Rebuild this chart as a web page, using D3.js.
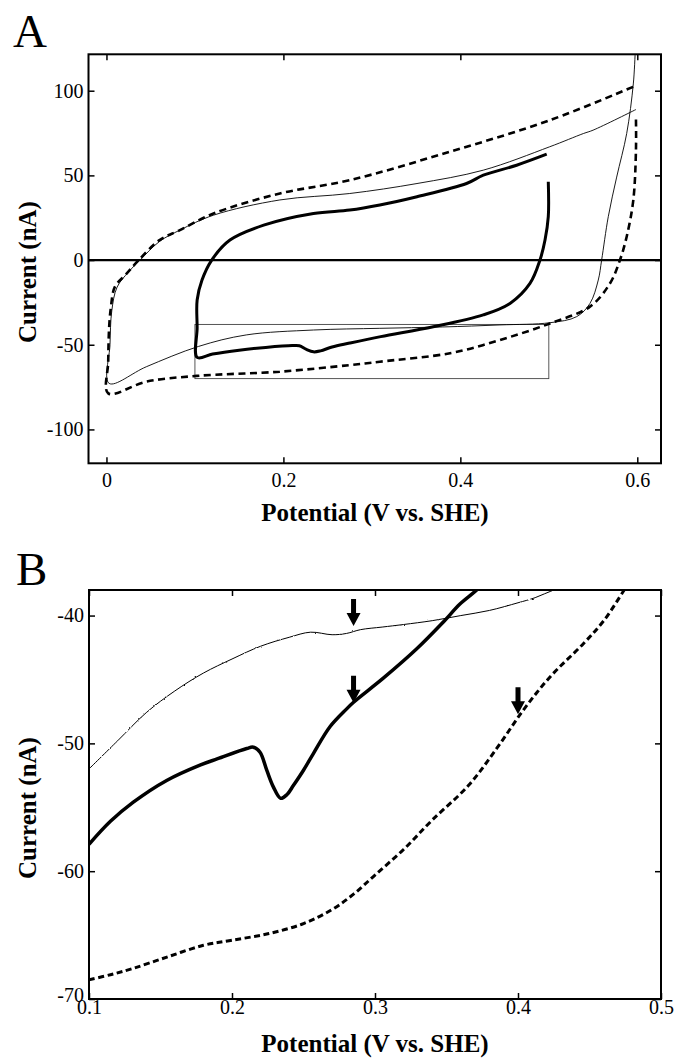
<!DOCTYPE html>
<html>
<head>
<meta charset="utf-8">
<script src="https://cdn.jsdelivr.net/npm/d3@7"></script>
<style>
body { margin: 0; background: #fff; }
svg { display: block; }
svg text { font-family: "Liberation Serif", "Times New Roman", serif; }
</style>
</head>
<body>
<script>
// panel A: full cyclic voltammograms, points are [potential V, current nA]
var aThin = [[0.599, 130], [0.598, 125], [0.5955, 104], [0.588, 74.7], [0.5767, 49], [0.5672, 25.6],
  [0.5597, 0], [0.5559, -11.8], [0.5465, -25.6], [0.5315, -33.4], [0.5013, -37], [0.4448, -38.3],
  [0.38, -39.5], [0.309, -40.3], [0.234, -41.3], [0.158, -44.2], [0.104, -51], [0.045, -63],
  [0.003, -72.8], [0.004, -50], [0.006, -30], [0.012, -16], [0.025, -7], [0.038, 0], [0.06, 11],
  [0.083, 17.7], [0.121, 26.5], [0.196, 35.5], [0.275, 39.3], [0.351, 45.2], [0.426, 53.1],
  [0.501, 66.9], [0.539, 74.7], [0.55, 76.7], [0.5985, 88.9]];
var aThick = [[0.4994, 46.2], [0.4994, 25.6], [0.4957, 11.8], [0.49, 0], [0.4787, -13.8],
  [0.4561, -25.6], [0.4259, -32.4], [0.3694, -39.4], [0.31, -45.2], [0.275, -49], [0.255, -51.3],
  [0.242, -53.6], [0.234, -54.2], [0.226, -52.8], [0.218, -50.6], [0.21, -50.5], [0.18, -51.6],
  [0.15, -53.2], [0.12, -55.5], [0.1025, -57.5], [0.1025, -40], [0.1025, -23.6], [0.108, -11.8],
  [0.119, 0], [0.1396, 11.8], [0.1777, 20.6], [0.234, 27.5], [0.275, 29.5], [0.309, 32.5],
  [0.351, 37.4], [0.407, 45.2], [0.426, 50.1], [0.4636, 56], [0.4976, 62.5]];
var aDashed = [[0.5985, 83], [0.5985, 65], [0.5955, 35.4], [0.588, 13.8], [0.5804, 0],
  [0.5691, -13.8], [0.5465, -27.5], [0.5013, -37.4], [0.4448, -47.2], [0.3883, -55], [0.309, -60],
  [0.2752, -62], [0.196, -65.9], [0.102, -68.4], [0.045, -71.8], [0.002, -78.7], [0.002, -60],
  [0.003, -40], [0.005, -28], [0.0096, -15.7], [0.023, -7.9], [0.0365, 0], [0.06, 11.8],
  [0.083, 17.7], [0.121, 27.5], [0.196, 39.3], [0.2752, 47.2], [0.3883, 64], [0.5013, 82.6],
  [0.5985, 103]];
var aBox = [[0.1, -38], [0.5, -70]];
var aXTicks = [0, 0.2, 0.4, 0.6];
var aYTicks = [-100, -50, 0, 50, 100];

// panel B: zoom on the boxed part of the cathodic scans
var bThin = [[0.1, -52], [0.12, -49.8], [0.14, -47.6], [0.16, -45.9], [0.18, -44.5], [0.2, -43.4],
  [0.22, -42.4], [0.24, -41.7], [0.255, -41.3], [0.27, -41.5], [0.28, -41.4], [0.29, -41.1],
  [0.305, -40.9], [0.32, -40.7], [0.34, -40.4], [0.36, -40], [0.38, -39.6], [0.4, -39],
  [0.412, -38.6], [0.425, -38], [0.44, -37.5]];
var bThick = [[0.1, -57.9], [0.115, -56.1], [0.131, -54.6], [0.1543, -52.9], [0.1776, -51.7],
  [0.19, -51.2], [0.2103, -50.4], [0.2149, -50.3], [0.2196, -50.7], [0.2243, -52.1],
  [0.2289, -53.4], [0.234, -54.3], [0.2385, -54], [0.2429, -53.3], [0.25, -52.1], [0.2569, -50.8],
  [0.2685, -48.7], [0.2802, -47.3], [0.2848, -46.8], [0.3058, -44.9], [0.3292, -42.6],
  [0.3478, -40.5], [0.3594, -39.1], [0.3711, -38], [0.38, -37]];
var bDashed = [[0.1, -68.5], [0.115, -68.1], [0.131, -67.6], [0.155, -66.7], [0.18, -65.8],
  [0.2, -65.4], [0.225, -64.9], [0.25, -64.1], [0.27, -63], [0.285, -61.8], [0.3, -60.3],
  [0.32, -58.3], [0.34, -56], [0.3653, -53.3], [0.3851, -50.4], [0.4037, -47.4], [0.4224, -44.8],
  [0.4457, -42.2], [0.46, -40.4], [0.4737, -38.1], [0.48, -37]];
var bArrows = [[0.285, -40.9], [0.285, -46.9], [0.4, -47.8]];
var bXTicks = [0.1, 0.2, 0.3, 0.4, 0.5];
var bYTicks = [-70, -60, -50, -40];

var svg = d3.select("body")
  .append("svg")
  .attr("width", 674)
  .attr("height", 1063);

// a faint jitter for the noisy thin trace of panel B
var jitter = svg.append("defs")
  .append("filter")
  .attr("id", "jitter")
  .attr("x", "-5%").attr("y", "-5%").attr("width", "110%").attr("height", "110%");
jitter.append("feTurbulence")
  .attr("type", "fractalNoise")
  .attr("baseFrequency", "0.35")
  .attr("numOctaves", 1)
  .attr("seed", 3)
  .attr("result", "noise");
jitter.append("feDisplacementMap")
  .attr("in", "SourceGraphic")
  .attr("in2", "noise")
  .attr("scale", 2.2)
  .attr("xChannelSelector", "R")
  .attr("yChannelSelector", "G");

function panel(id, box, xDom, yDom, xTicks, yTicks, xPad) {
  var w = box[2], h = box[3];
  var x = d3.scaleLinear().domain(xDom).range([0, w]);
  var y = d3.scaleLinear().domain(yDom).range([h, 0]);
  var g = svg.append("g")
    .attr("transform", "translate(" + box[0] + "," + box[1] + ")");
  g.append("clipPath")
    .attr("id", id)
    .append("rect")
    .attr("width", w)
    .attr("height", h);
  var fmt = function (d) { return String(d); }; // plain hyphen minus like the original
  g.append("g")
    .attr("transform", "translate(0," + h + ")")
    .call(d3.axisBottom(x).tickValues(xTicks).tickSize(-6).tickPadding(xPad).tickFormat(fmt));
  g.append("g")
    .call(d3.axisTop(x).tickValues(xTicks).tickSize(-6).tickFormat(""));
  g.append("g")
    .classed("yaxis", true)
    .call(d3.axisLeft(y).tickValues(yTicks).tickSize(-6).tickPadding(5).tickFormat(fmt));
  g.append("g")
    .attr("transform", "translate(" + w + ",0)")
    .call(d3.axisRight(y).tickValues(yTicks).tickSize(-6).tickFormat(""));
  g.selectAll(".domain").remove();
  g.selectAll(".tick line").attr("stroke-width", 1.5);
  g.selectAll(".tick text")
    .attr("font-size", 20)
    .attr("fill", "#000");
  var plot = g.append("g").attr("clip-path", "url(#" + id + ")");
  return { g: g, plot: plot, x: x, y: y, w: w, h: h };
}

function curve(p, data, width, dash) {
  var line = d3.line()
    .x(function (d) { return p.x(d[0]); })
    .y(function (d) { return p.y(d[1]); })
    .curve(d3.curveCatmullRom.alpha(0.5));
  return p.plot.append("path")
    .datum(data)
    .attr("d", line)
    .attr("fill", "none")
    .attr("stroke", "#000")
    .attr("stroke-width", width)
    .attr("stroke-linejoin", "round")
    .attr("stroke-dasharray", dash || null);
}

function frame(p) {
  p.g.append("rect")
    .attr("width", p.w)
    .attr("height", p.h)
    .attr("fill", "none")
    .attr("stroke", "#000")
    .attr("stroke-width", 2);
}

function titles(label, lx, ly, xTitleY, yTitleY) {
  svg.append("text")
    .attr("x", lx)
    .attr("y", ly)
    .attr("font-size", 47)
    .text(label);
  svg.append("text")
    .attr("x", 375)
    .attr("y", xTitleY)
    .attr("text-anchor", "middle")
    .attr("font-weight", "bold")
    .attr("font-size", 25)
    .text("Potential (V vs. SHE)");
  svg.append("text")
    .attr("transform", "translate(36," + yTitleY + ") rotate(-90)")
    .attr("text-anchor", "middle")
    .attr("font-weight", "bold")
    .attr("font-size", 25)
    .text("Current (nA)");
}

// ---- A ----
var pa = panel("clipA", [88.5, 54.3, 572.5, 409], [-0.0203, 0.6268], [-120, 121.5], aXTicks, aYTicks, 10);
pa.plot.append("line")
  .attr("x1", 0)
  .attr("x2", pa.w)
  .attr("y1", pa.y(0))
  .attr("y2", pa.y(0))
  .attr("stroke", "#000")
  .attr("stroke-width", 2.2);
pa.plot.append("rect")
  .attr("x", pa.x(aBox[0][0]))
  .attr("y", pa.y(aBox[0][1]))
  .attr("width", pa.x(aBox[1][0]) - pa.x(aBox[0][0]))
  .attr("height", pa.y(aBox[1][1]) - pa.y(aBox[0][1]))
  .attr("fill", "none")
  .attr("stroke", "#444")
  .attr("stroke-width", 0.9);
curve(pa, aThin, 0.9);
curve(pa, aDashed, 2.6, "7,4.5");
curve(pa, aThick, 3);
frame(pa);
titles("A", 13, 47, 521, 272);

// ---- B ----
var pb = panel("clipB", [89, 590, 572, 409], [0.1, 0.5], [-70, -38], bXTicks, bYTicks, 1);
// lift the corner label "-70" a little so it sits clear of "0.1"
pb.g.selectAll(".yaxis .tick text")
  .filter(function (d) { return d === bYTicks[0]; })
  .attr("y", -4);
curve(pb, bThin, 1).attr("filter", "url(#jitter)");
curve(pb, bDashed, 3, "6,3.5");
curve(pb, bThick, 3.5);
pb.g.selectAll("path.arrow")
  .data(bArrows)
  .enter()
  .append("path")
  .classed("arrow", true)
  .attr("transform", function (d) {
    return "translate(" + pb.x(d[0]) + "," + (pb.y(d[1]) - 1) + ")";
  })
  .attr("d", "M0,0L-7,-13L-2.5,-13L-2.5,-27L2.5,-27L2.5,-13L7,-13Z")
  .attr("fill", "#000");
frame(pb);
titles("B", 16, 585, 1052, 808);
</script>
</body>
</html>
